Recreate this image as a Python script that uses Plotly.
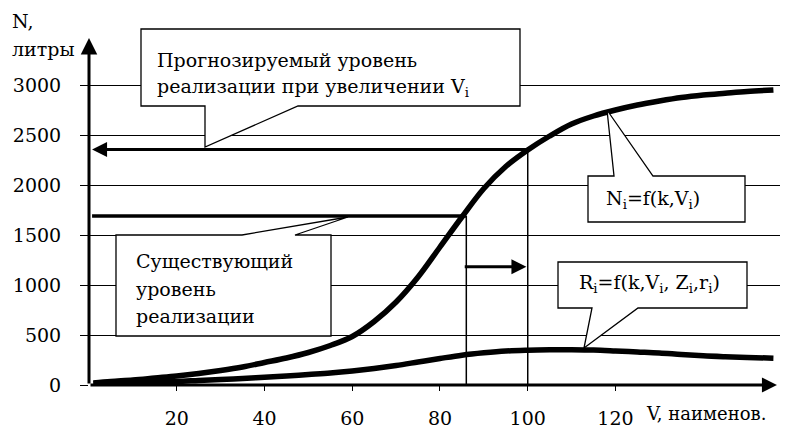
import plotly.graph_objects as go

# ---------------- data ----------------
v_items = [1, 5, 10, 15, 20, 25, 30, 35, 40, 45, 50, 55, 60, 65, 70, 75, 80,
           85, 90, 95, 100, 105, 110, 115, 120, 125, 130, 135, 140, 145, 150, 156]
n_sales = [20, 35, 50, 70, 90, 115, 145, 180, 225, 270, 325, 395, 485, 635, 830,
           1080, 1380, 1680, 1965, 2185, 2350, 2490, 2610, 2690, 2750, 2800,
           2840, 2875, 2900, 2918, 2935, 2950]
r_sales = [15, 20, 25, 30, 35, 45, 55, 65, 78, 90, 105, 120, 140, 165, 195,
           230, 265, 298, 322, 340, 348, 352, 352, 349, 340, 330, 320, 305,
           292, 283, 276, 268]

y_ticks = [0, 500, 1000, 1500, 2000, 2500, 3000]
x_ticks = [20, 40, 60, 80, 100, 120]

v_current = 86        # current assortment width
v_forecast = 100      # increased assortment width
level_current = 1690  # existing sales level
level_forecast = 2355 # forecast sales level
shift_level = 1183    # height of the shift arrow
x_max = 157.5
y_max = 3480
x_tip = 156.8
y_tip = 3470

# ---------------- geometry helpers ----------------
W, H = 786, 438
ML, MR, MT, MB = 89, 6, 37, 53
PW, PH = W - ML - MR, H - MT - MB


def pp(px, py):
    return (px - ML) / PW, (H - MB - py) / PH


def box_path(pts):
    coords = [pp(x, y) for x, y in pts]
    s = "M {:.5f},{:.5f}".format(*coords[0])
    for c in coords[1:]:
        s += " L {:.5f},{:.5f}".format(*c)
    return s + " Z"


FONT = "DejaVu Serif"
FS = 19

fig = go.Figure()
fig.add_trace(go.Scatter(x=v_items, y=n_sales, mode="lines",
                         line=dict(color="black", width=5.5, shape="spline"),
                         hoverinfo="skip", showlegend=False))
fig.add_trace(go.Scatter(x=v_items, y=r_sales, mode="lines",
                         line=dict(color="black", width=5.5, shape="spline"),
                         hoverinfo="skip", showlegend=False))

shapes = []
# existing level line
shapes.append(dict(type="line", xref="x", yref="y", x0=0.7, x1=v_current,
                   y0=level_current, y1=level_current,
                   line=dict(color="black", width=3.5)))
# vertical lines
shapes.append(dict(type="line", xref="x", yref="y", x0=v_current, x1=v_current,
                   y0=0, y1=level_current, line=dict(color="black", width=1.5)))
shapes.append(dict(type="line", xref="x", yref="y", x0=v_forecast, x1=v_forecast,
                   y0=0, y1=level_forecast, line=dict(color="black", width=1.5)))

# callout boxes
callouts = [
    [(141, 29), (520, 29), (520, 106), (298, 106), (205, 147), (205, 106), (141, 106)],
    [(116, 235), (242, 235), (348, 217), (295, 235), (331, 235), (331, 336), (116, 336)],
    [(588, 176), (614, 176), (607, 110), (653, 176), (745, 176), (745, 222), (588, 222)],
    [(558, 262), (747, 262), (747, 308), (638, 308), (584, 348), (592, 308), (558, 308)],
]
for pts in callouts:
    shapes.append(dict(type="path", xref="paper", yref="paper", path=box_path(pts),
                       fillcolor="white", line=dict(color="black", width=1.3),
                       layer="above"))

annotations = []


def arrow(x, y, ax, ay, width, size):
    annotations.append(dict(x=x, y=y, ax=ax, ay=ay, xref="x", yref="y",
                            axref="x", ayref="y", text="", showarrow=True,
                            arrowhead=2, arrowwidth=width, arrowsize=size,
                            arrowcolor="black", standoff=0, startstandoff=0))


# axes with arrows
arrow(0, y_tip, 0, 0, 3, 1.1)
arrow(x_tip, 0, 0, 0, 3, 1.0)
# forecast level arrow (pointing to the N axis)
arrow(0.7, level_forecast, v_forecast, level_forecast, 3, 1.0)
# shift arrow
arrow(v_forecast - 0.3, shift_level, v_current - 0.7, shift_level, 3, 1.0)


def text(px, py, s, anchor="left", size=FS):
    x, y = pp(px, py)
    annotations.append(dict(x=x, y=y, xref="paper", yref="paper", text=s,
                            showarrow=False, xanchor=anchor, yanchor="middle",
                            font=dict(family=FONT, size=size, color="black")))


text(10, 21, "N,")
text(10, 49, "литры")
text(644, 413, "V, наименов.", size=18)
text(155, 60, "Прогнозируемый уровень")
text(155, 87, "реализации при увеличении V<sub>i</sub>")
text(134, 261, "Существующий")
text(134, 289, "уровень")
text(134, 316, "реализации")
text(604, 200, "N<sub>i</sub>=f(k,V<sub>i</sub>)")
text(577, 283, "R<sub>i</sub>=f(k,V<sub>i</sub>, Z<sub>i</sub>,r<sub>i</sub>)")

fig.update_layout(
    width=W, height=H,
    margin=dict(l=ML, r=MR, t=MT, b=MB, pad=0, autoexpand=False),
    paper_bgcolor="white", plot_bgcolor="white",
    font=dict(family=FONT, size=FS, color="black"),
    shapes=shapes, annotations=annotations, showlegend=False,
    xaxis=dict(range=[0, x_max], tickvals=x_ticks, ticks="outside", ticklen=5,
               tickwidth=1, tickcolor="black", showgrid=False, zeroline=False,
               showline=False, ticklabelstandoff=11, automargin=False,
               tickfont=dict(family=FONT, size=FS, color="black"), fixedrange=True),
    yaxis=dict(range=[0, y_max], tickvals=y_ticks, ticks="outside", ticklen=8,
               tickwidth=1, tickcolor="black", showgrid=True, gridcolor="black",
               gridwidth=1, zeroline=False, showline=False, ticklabelstandoff=15,
               automargin=False,
               tickfont=dict(family=FONT, size=FS, color="black"), fixedrange=True),
)

fig.write_html("out.html", config={"displayModeBar": False},
               post_script="document.body.style.margin='0';document.body.style.overflow='hidden';")
